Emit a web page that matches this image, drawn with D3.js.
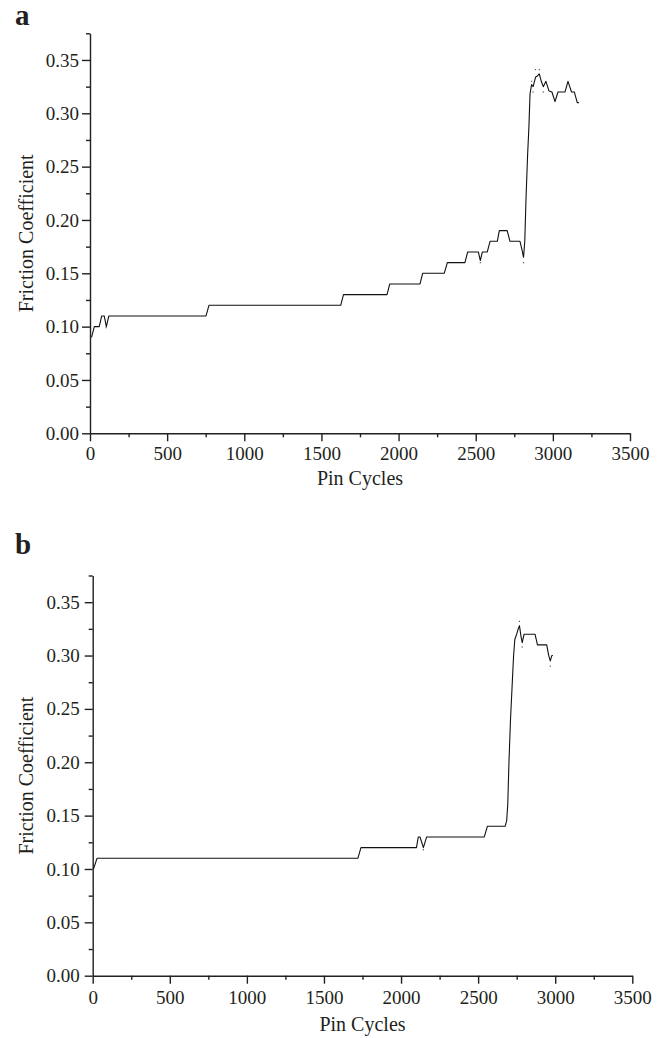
<!DOCTYPE html>
<html>
<head>
<meta charset="utf-8">
<script src="https://cdn.jsdelivr.net/npm/d3@7"></script>
<style>
  body { margin: 0; background: #fff; }
  .axis path, .axis line { stroke: #231f20; stroke-width: 1.4; }
</style>
</head>
<body>
<div id="chart"></div>
<script>
const FONT = "'Liberation Serif', 'DejaVu Serif', 'Times New Roman', serif";

// panel a : friction coefficient vs pin cycles
const cyclesA = [10, 28, 60, 76, 92, 106, 122, 752, 771, 1625, 1643, 1925, 1943, 2139, 2156, 2296, 2316, 2430, 2448,
  2517, 2530, 2543, 2575, 2593, 2640, 2653, 2704, 2722, 2787, 2800, 2810, 2818, 2826, 2836, 2845, 2852, 2862, 2872,
  2888, 2900, 2912, 2925, 2938, 2955, 2975, 2994, 3014, 3033, 3079, 3098, 3121, 3139, 3158, 3169];
const frictionA = [0.09, 0.10, 0.10, 0.11, 0.11, 0.10, 0.11, 0.11, 0.12, 0.12, 0.13, 0.13, 0.14, 0.14, 0.15, 0.15, 0.16, 0.16, 0.17,
  0.17, 0.162, 0.17, 0.17, 0.18, 0.18, 0.19, 0.19, 0.18, 0.18, 0.172, 0.165, 0.18, 0.22, 0.26, 0.288, 0.318, 0.327, 0.325,
  0.334, 0.335, 0.337, 0.33, 0.325, 0.33, 0.321, 0.32, 0.311, 0.32, 0.32, 0.33, 0.32, 0.32, 0.31, 0.31];
// stray scatter dots in panel a
const dotCyclesA = [104, 2530, 2810, 2862, 2872, 2888, 2912, 2938];
const dotFrictionA = [0.099, 0.16, 0.16, 0.33, 0.32, 0.341, 0.341, 0.32];

// panel b
const cyclesB = [5, 28, 1720, 1740, 2100, 2112, 2123, 2145, 2166, 2540, 2560, 2675, 2685, 2692, 2700, 2710, 2720,
  2730, 2738, 2750, 2760, 2768, 2778, 2786, 2798, 2869, 2885, 2945, 2958, 2968, 2978, 2985];
const frictionB = [0.10, 0.11, 0.11, 0.12, 0.12, 0.13, 0.13, 0.12, 0.13, 0.13, 0.14, 0.14, 0.145, 0.16, 0.20, 0.24, 0.27,
  0.30, 0.315, 0.32, 0.325, 0.328, 0.318, 0.312, 0.32, 0.32, 0.31, 0.31, 0.30, 0.295, 0.30, 0.30];
const dotCyclesB = [2145, 2768, 2786, 2968];
const dotFrictionB = [0.118, 0.332, 0.308, 0.29];

// ticks
const xTicks = d3.range(0, 3501, 500);
const xMinor = d3.range(250, 3300, 500);
const yTicks = [0.00, 0.05, 0.10, 0.15, 0.20, 0.25, 0.30, 0.35];
const yMinor = [0.025, 0.075, 0.125, 0.175, 0.225, 0.275, 0.325, 0.375];

const xLabel = "Pin Cycles";
const yLabel = "Friction Coefficient";

const svg = d3.select("#chart").append("svg")
  .attr("width", 662)
  .attr("height", 1038);

function drawPanel(p) {
  const g = svg.append("g")
    .attr("transform", "translate(" + p.left + "," + p.top + ")");

  const x = d3.scaleLinear().domain([0, 3500]).range([0, p.width]);
  const y = d3.scaleLinear().domain([0, 0.375]).range([p.height, 0]);

  // minor ticks first, then major axis on top
  g.append("g").attr("class", "axis")
    .attr("transform", "translate(0," + p.height + ")")
    .call(d3.axisBottom(x).tickValues(xMinor).tickSize(4).tickSizeOuter(0).tickFormat(""))
    .select(".domain").remove();
  g.append("g").attr("class", "axis")
    .call(d3.axisLeft(y).tickValues(yMinor).tickSize(4).tickSizeOuter(0).tickFormat(""))
    .select(".domain").remove();

  const xa = g.append("g").attr("class", "axis")
    .attr("transform", "translate(0," + p.height + ")")
    .call(d3.axisBottom(x).tickValues(xTicks).tickSize(8).tickSizeOuter(0).tickPadding(p.xPad)
      .tickFormat(d3.format("d")));

  const ya = g.append("g").attr("class", "axis")
    .call(d3.axisLeft(y).tickValues(yTicks).tickSize(8).tickSizeOuter(0).tickPadding(p.yPad)
      .tickFormat(d3.format(".2f")));

  [xa, ya].forEach(a => a.attr("font-family", FONT).attr("font-size", 19)
    .selectAll("text").attr("fill", "#231f20"));

  // data line
  const pts = p.cycles.map((c, i) => [c, p.friction[i]]);
  const line = d3.line().x(d => x(d[0])).y(d => y(d[1]));
  g.append("path")
    .datum(pts)
    .attr("fill", "none")
    .attr("stroke", "#111")
    .attr("stroke-width", 1.1)
    .attr("stroke-linejoin", "round")
    .attr("d", line);

  const dots = p.dotCycles.map((c, i) => [c, p.dotFriction[i]]);
  g.selectAll("rect.dot")
    .data(dots)
    .enter()
    .append("rect")
    .attr("class", "dot")
    .attr("x", d => x(d[0]) - 0.6)
    .attr("y", d => y(d[1]) - 0.6)
    .attr("width", 1.2)
    .attr("height", 1.2)
    .attr("fill", "#555");

  // labels
  g.append("text")
    .attr("x", p.width / 2)
    .attr("y", p.height + p.titleY)
    .attr("text-anchor", "middle")
    .attr("font-family", FONT)
    .attr("font-size", 20)
    .attr("fill", "#231f20")
    .text(xLabel);

  g.append("text")
    .attr("transform", "rotate(-90)")
    .attr("x", -p.height / 2)
    .attr("y", 33 - p.left)
    .attr("text-anchor", "middle")
    .attr("font-family", FONT)
    .attr("font-size", 20)
    .attr("fill", "#231f20")
    .text(yLabel);

  svg.append("text")
    .attr("x", 15)
    .attr("y", p.letterY)
    .attr("font-family", FONT)
    .attr("font-size", 29)
    .attr("font-weight", "bold")
    .attr("fill", "#231f20")
    .text(p.letter);
}

drawPanel({ left: 90, top: 33.3, width: 540, height: 400, cycles: cyclesA, friction: frictionA,
  dotCycles: dotCyclesA, dotFriction: dotFrictionA, xPad: 5, yPad: 3, titleY: 52, letter: "a", letterY: 25 });
drawPanel({ left: 92.7, top: 575.5, width: 539.6, height: 400.2, cycles: cyclesB, friction: frictionB,
  dotCycles: dotCyclesB, dotFriction: dotFrictionB, xPad: 7, yPad: 5, titleY: 55, letter: "b", letterY: 554 });
</script>
</body>
</html>
